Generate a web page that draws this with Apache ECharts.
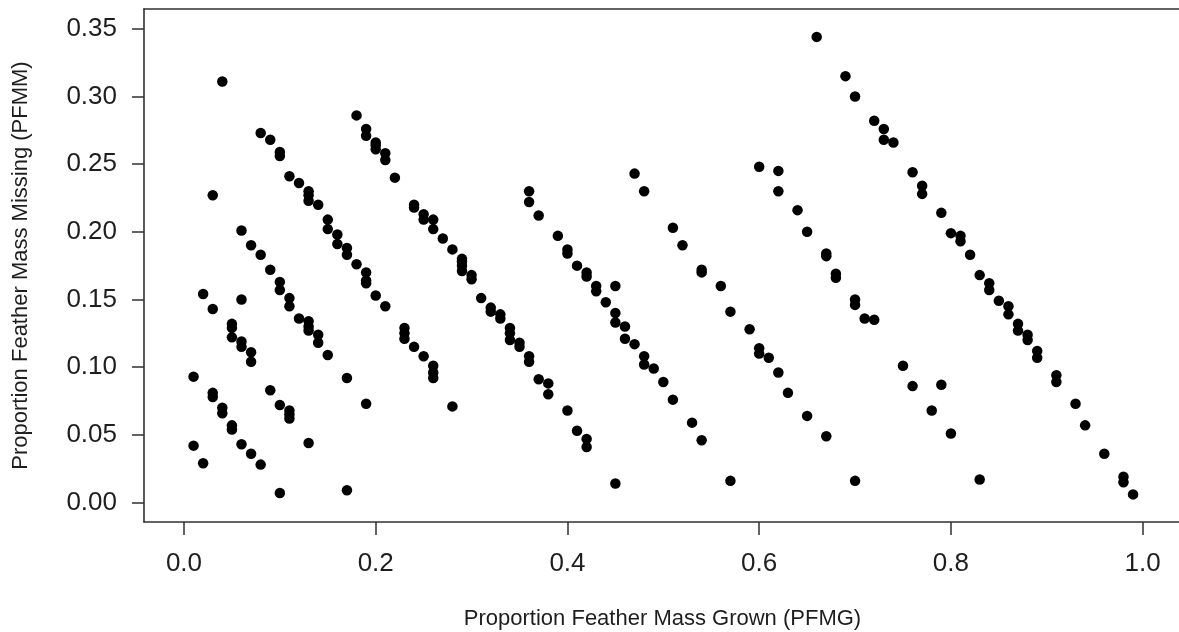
<!DOCTYPE html>
<html>
<head>
<meta charset="utf-8">
<script src="https://cdn.jsdelivr.net/npm/echarts@6/dist/echarts.min.js"></script>
<style>
  html, body { margin: 0; padding: 0; background: #ffffff; }
  #chart { width: 1179px; height: 632px; }
</style>
</head>
<body>
<div id="chart"></div>
<script>
// Proportion of feather mass grown (x) and missing (y), one entry per feather
const pfmg = [
  0.01, 0.01,
  0.02, 0.02,
  0.03, 0.03, 0.03, 0.03,
  0.04, 0.04, 0.04,
  0.05, 0.05, 0.05, 0.05, 0.05,
  0.06, 0.06, 0.06, 0.06, 0.06,
  0.07, 0.07, 0.07, 0.07,
  0.08, 0.08, 0.08,
  0.09, 0.09, 0.09,
  0.10, 0.10, 0.10, 0.10, 0.10, 0.10,
  0.11, 0.11, 0.11, 0.11, 0.11, 0.11,
  0.12, 0.12,
  0.13, 0.13, 0.13, 0.13, 0.13, 0.13, 0.13,
  0.14, 0.14, 0.14,
  0.15, 0.15, 0.15,
  0.16, 0.16,
  0.17, 0.17, 0.17, 0.17,
  0.18, 0.18,
  0.19, 0.19, 0.19, 0.19, 0.19, 0.19,
  0.20, 0.20, 0.20, 0.20,
  0.21, 0.21, 0.21,
  0.22,
  0.23, 0.23, 0.23,
  0.24, 0.24, 0.24,
  0.25, 0.25, 0.25,
  0.26, 0.26, 0.26, 0.26, 0.26,
  0.27,
  0.28, 0.28,
  0.29, 0.29, 0.29, 0.29,
  0.30, 0.30,
  0.31,
  0.32, 0.32,
  0.33, 0.33,
  0.34, 0.34, 0.34,
  0.35, 0.35,
  0.36, 0.36, 0.36, 0.36,
  0.37, 0.37,
  0.38, 0.38,
  0.39,
  0.40, 0.40, 0.40,
  0.41, 0.41,
  0.42, 0.42, 0.42, 0.42,
  0.43, 0.43,
  0.44,
  0.45, 0.45, 0.45, 0.45,
  0.46, 0.46,
  0.47, 0.47,
  0.48, 0.48, 0.48,
  0.49,
  0.50,
  0.51, 0.51,
  0.52,
  0.53,
  0.54, 0.54, 0.54,
  0.56,
  0.57, 0.57,
  0.59,
  0.60, 0.60, 0.60,
  0.61,
  0.62, 0.62, 0.62,
  0.63,
  0.64,
  0.65, 0.65,
  0.66,
  0.67, 0.67, 0.67,
  0.68, 0.68,
  0.69,
  0.70, 0.70, 0.70, 0.70,
  0.71,
  0.72, 0.72,
  0.73, 0.73,
  0.74,
  0.75,
  0.76, 0.76,
  0.77, 0.77,
  0.78,
  0.79, 0.79,
  0.80, 0.80,
  0.81, 0.81,
  0.82,
  0.83, 0.83,
  0.84, 0.84,
  0.85,
  0.86, 0.86,
  0.87, 0.87,
  0.88, 0.88,
  0.89, 0.89,
  0.91, 0.91,
  0.93,
  0.94,
  0.96,
  0.98, 0.98,
  0.99
];

const pfmm = [
  0.093, 0.042,
  0.154, 0.029,
  0.227, 0.143, 0.081, 0.078,
  0.311, 0.070, 0.066,
  0.132, 0.129, 0.122, 0.057, 0.054,
  0.201, 0.150, 0.119, 0.115, 0.043,
  0.190, 0.111, 0.104, 0.036,
  0.273, 0.183, 0.028,
  0.268, 0.172, 0.083,
  0.259, 0.256, 0.163, 0.157, 0.072, 0.007,
  0.241, 0.151, 0.145, 0.068, 0.065, 0.062,
  0.236, 0.136,
  0.230, 0.227, 0.223, 0.134, 0.130, 0.127, 0.044,
  0.220, 0.124, 0.118,
  0.209, 0.202, 0.109,
  0.198, 0.191,
  0.188, 0.183, 0.092, 0.009,
  0.286, 0.176,
  0.276, 0.271, 0.170, 0.164, 0.162, 0.073,
  0.266, 0.264, 0.261, 0.153,
  0.258, 0.253, 0.145,
  0.240,
  0.129, 0.125, 0.121,
  0.220, 0.218, 0.115,
  0.213, 0.209, 0.108,
  0.209, 0.202, 0.101, 0.096, 0.092,
  0.195,
  0.187, 0.071,
  0.180, 0.178, 0.175, 0.171,
  0.168, 0.165,
  0.151,
  0.144, 0.141,
  0.139, 0.136,
  0.129, 0.125, 0.120,
  0.118, 0.115,
  0.230, 0.222, 0.108, 0.104,
  0.212, 0.091,
  0.088, 0.080,
  0.197,
  0.187, 0.184, 0.068,
  0.175, 0.053,
  0.170, 0.167, 0.047, 0.041,
  0.160, 0.156,
  0.148,
  0.160, 0.140, 0.133, 0.014,
  0.130, 0.121,
  0.243, 0.117,
  0.230, 0.108, 0.102,
  0.099,
  0.089,
  0.203, 0.076,
  0.190,
  0.059,
  0.172, 0.170, 0.046,
  0.160,
  0.141, 0.016,
  0.128,
  0.248, 0.114, 0.110,
  0.107,
  0.245, 0.230, 0.096,
  0.081,
  0.216,
  0.200, 0.064,
  0.344,
  0.184, 0.182, 0.049,
  0.169, 0.166,
  0.315,
  0.300, 0.150, 0.146, 0.016,
  0.136,
  0.282, 0.135,
  0.276, 0.268,
  0.266,
  0.101,
  0.244, 0.086,
  0.234, 0.228,
  0.068,
  0.214, 0.087,
  0.199, 0.051,
  0.197, 0.193,
  0.183,
  0.168, 0.017,
  0.162, 0.157,
  0.149,
  0.145, 0.139,
  0.132, 0.127,
  0.124, 0.120,
  0.112, 0.107,
  0.094, 0.089,
  0.073,
  0.057,
  0.036,
  0.019, 0.015,
  0.006
];

// Tick positions on each axis
const xTicks = [0.0, 0.2, 0.4, 0.6, 0.8, 1.0];
const yTicks = [0.00, 0.05, 0.10, 0.15, 0.20, 0.25, 0.30, 0.35];

const xTitle = 'Proportion Feather Mass Grown (PFMG)';
const yTitle = 'Proportion Feather Mass Missing (PFMM)';

const points = pfmg.map((x, i) => [x, pfmm[i]]);

const FONT = '"Liberation Sans", Arial, sans-serif';
const INK = '#1e1e1e';
const FRAME = '#303030';
const X_MIN = -0.0417, X_MAX = 1.04;

const frameLine = { show: true, onZero: false, lineStyle: { color: FRAME, width: 1.6 } };

const chart = echarts.init(document.getElementById('chart'), null, { renderer: 'canvas' });

chart.setOption({
  animation: false,
  backgroundColor: '#ffffff',
  grid: {
    left: 144,
    top: 9,
    width: 1037,
    height: 513,
    show: false,
    containLabel: false,
    outerBoundsMode: 'none'
  },
  xAxis: [{
    type: 'value',
    position: 'bottom',
    min: X_MIN,
    max: X_MAX,
    name: xTitle,
    nameLocation: 'middle',
    nameGap: 86,
    nameTextStyle: { fontFamily: FONT, fontSize: 22, color: INK },
    axisLine: frameLine,
    splitLine: { show: false },
    axisTick: {
      show: true,
      length: 13,
      inside: false,
      customValues: xTicks,
      lineStyle: { color: FRAME, width: 1.5 }
    },
    axisLabel: {
      show: true,
      margin: 29,
      customValues: xTicks,
      formatter: v => v.toFixed(1),
      fontFamily: FONT,
      fontSize: 26,
      color: INK
    }
  }, {
    // upper edge of the plot frame
    type: 'value',
    position: 'top',
    min: X_MIN,
    max: X_MAX,
    axisLine: frameLine,
    axisTick: { show: false },
    axisLabel: { show: false },
    splitLine: { show: false }
  }],
  yAxis: {
    type: 'value',
    position: 'left',
    min: -0.0144,
    max: 0.3646,
    name: yTitle,
    nameLocation: 'middle',
    nameGap: 112,
    nameRotate: 90,
    nameTextStyle: { fontFamily: FONT, fontSize: 22, color: INK },
    axisLine: frameLine,
    splitLine: { show: false },
    axisTick: {
      show: true,
      length: 12,
      inside: false,
      customValues: yTicks,
      lineStyle: { color: FRAME, width: 1.5 }
    },
    axisLabel: {
      show: true,
      margin: 27,
      padding: [3, 0, 0, 0],
      customValues: yTicks,
      formatter: v => v.toFixed(2),
      fontFamily: FONT,
      fontSize: 26,
      color: INK
    }
  },
  series: [{
    type: 'scatter',
    xAxisIndex: 0,
    data: points,
    symbol: 'circle',
    symbolSize: 10.5,
    itemStyle: { color: '#000000', opacity: 1 },
    emphasis: { disabled: true }
  }]
});
</script>
</body>
</html>
